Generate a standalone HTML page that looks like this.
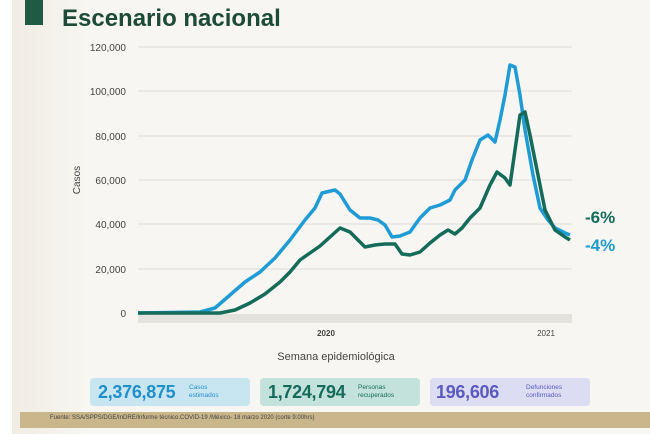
<!DOCTYPE html>
<html><head><meta charset="utf-8"><style>
body{margin:0;width:650px;height:434px;overflow:hidden;background:#f7f6f2;font-family:"Liberation Sans",sans-serif;position:relative}
.box{position:absolute;top:378px;height:28px;border-radius:4px}
.num{position:absolute;top:4px;font-size:18px;font-weight:bold;letter-spacing:-0.3px}
.lab{position:absolute;top:6px;font-size:6.5px;line-height:8px}
</style></head><body>
<div style="position:absolute;left:0;top:0;width:90px;height:434px;background:linear-gradient(90deg,#efebe0,#f7f6f2)"></div>
<div style="position:absolute;left:0;top:0;width:12px;height:434px;background:#fff"></div>
<div style="position:absolute;left:25px;top:0;width:18px;height:25px;background:#1f5a44"></div>
<div style="position:absolute;left:62px;top:5px;font-size:24px;font-weight:bold;color:#1e4a3a">Escenario nacional</div>
<svg width="650" height="434" style="position:absolute;left:0;top:0">
<g stroke="#dcdcdc" stroke-width="1">
<line x1="138" y1="47" x2="572" y2="47"/><line x1="138" y1="91" x2="572" y2="91"/><line x1="138" y1="136" x2="572" y2="136"/><line x1="138" y1="180" x2="572" y2="180"/><line x1="138" y1="224" x2="572" y2="224"/><line x1="138" y1="269" x2="572" y2="269"/>
</g>
<rect x="138" y="314" width="434" height="9" fill="#e4e2dc"/>
<g font-size="10" fill="#444" text-anchor="end">
<text x="126" y="51">120,000</text><text x="126" y="95">100,000</text><text x="126" y="140">80,000</text><text x="126" y="184">60,000</text><text x="126" y="228">40,000</text><text x="126" y="273">20,000</text><text x="126" y="317">0</text>
</g>
<text x="80" y="180" font-size="10" fill="#444" transform="rotate(-90 80 180)" text-anchor="middle">Casos</text>
<text x="326" y="336" font-size="8" font-weight="bold" fill="#444" text-anchor="middle">2020</text>
<text x="546" y="336" font-size="8" fill="#444" text-anchor="middle">2021</text>
<text x="336" y="360" font-size="11" fill="#444" text-anchor="middle">Semana epidemiológica</text>
<polyline fill="none" stroke="#1f9bd6" stroke-width="3.5" stroke-linejoin="round" points="138,313 200,312 215,308 230,295 245,282 260,272 275,258 290,240 305,220 315,208 322,193 335,190 340,194 350,210 360,218 370,218 378,220 385,225 392,237 400,236 410,232 420,218 430,208 440,205 450,200 455,190 465,180 472,160 480,140 488,135 495,142 500,120 505,95 510,65 515,67 520,95 525,130 533,175 540,208 548,220 555,228 565,233 570,235"/>
<polyline fill="none" stroke="#156b5a" stroke-width="3.5" stroke-linejoin="round" points="138,313 220,313 235,310 250,303 265,294 280,282 290,272 300,260 310,253 320,246 330,237 340,228 350,232 358,240 365,247 375,245 385,244 395,244 402,254 410,255 420,252 430,243 440,235 448,230 455,234 462,228 470,218 480,208 490,185 497,172 505,178 510,185 515,150 520,115 525,112 530,135 537,170 545,210 555,230 565,237 570,240"/>
<text x="585" y="223" font-size="17" font-weight="bold" fill="#156b5a">-6%</text>
<text x="585" y="251" font-size="17" font-weight="bold" fill="#1f9bd6">-4%</text>
</svg>
<div class="box" style="left:90px;width:160px;background:#c8e6f2"><span class="num" style="left:8px;color:#1f8fcb">2,376,875</span><span class="lab" style="left:99px;color:#1f8fcb">Casos<br>estimados</span></div>
<div class="box" style="left:260px;width:160px;background:#c4e2dc"><span class="num" style="left:8px;color:#156b5a">1,724,794</span><span class="lab" style="left:98px;color:#156b5a">Personas<br>recuperados</span></div>
<div class="box" style="left:430px;width:160px;background:#dcdcf2"><span class="num" style="left:6px;color:#5a5ac0">196,606</span><span class="lab" style="left:96px;color:#5a5ac0">Defunciones<br>confirmados</span></div>
<div style="position:absolute;left:20px;top:412px;width:630px;height:16px;background:#c9b68a"></div>
<div style="position:absolute;left:50px;top:415px;font-size:6px;color:#444">Fuente: SSA/SPPS/DGE/InDRE/Informe técnico.COVID-19 /México- 18 marzo 2020 (corte 9:00hrs)</div>
</body></html>
